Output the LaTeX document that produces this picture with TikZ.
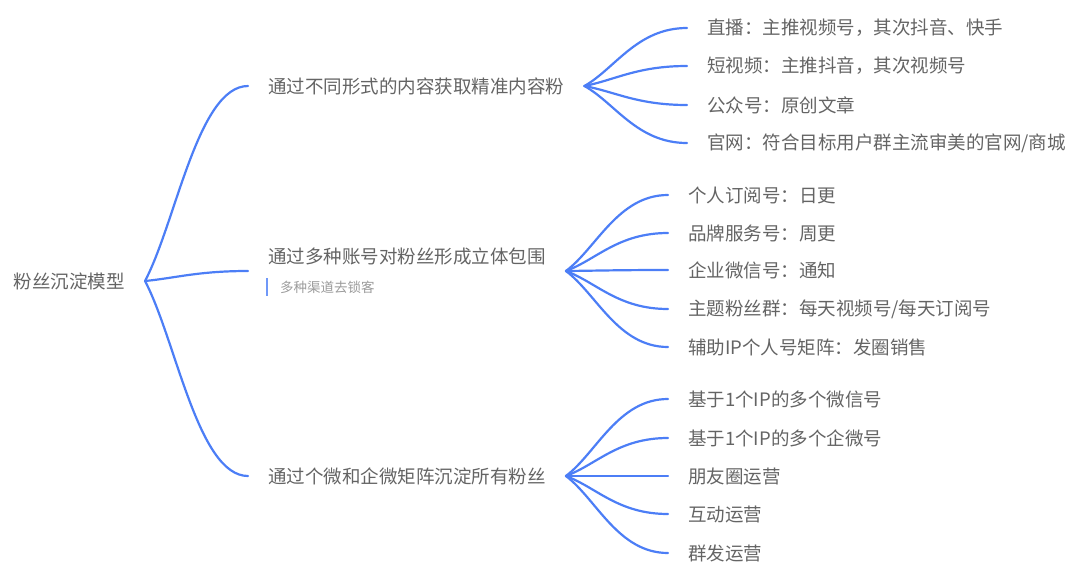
\documentclass[tikz,border=0pt]{standalone}
\usepackage{fontspec}
\setmainfont{Noto Sans CJK SC}
\usetikzlibrary{calc}
\definecolor{mybranch}{RGB}{76,126,246}
\definecolor{mytext}{RGB}{100,100,100}
\definecolor{mynote}{RGB}{155,155,155}

\tikzset{
    topic/.style={anchor=west, inner xsep=20pt, inner ysep=2pt, text=mytext, font=\fontsize{18.5}{22}\selectfont},
    link/.style={draw=mybranch, line width=2.2pt, line cap=round,
        to path={.. controls ($(\tikztostart)!0.3!(\tikztotarget)$) and ($(\tikztotarget)+(-50,0)$) .. (\tikztotarget)}}
}

\begin{document}
\begin{tikzpicture}[x=1pt, y=-1pt]
    \useasboundingbox (0,0) rectangle (1080,571);

    % Root
    \node[topic, anchor=east] (Root) at (145,281) {粉丝沉淀模型};

    % Main branches
    \node[topic] (B1) at (248,86) {通过不同形式的内容获取精准内容粉};
    \node[topic] (B2) at (248,256) {通过多种账号对粉丝形成立体包围};
    \node[topic] (B3) at (248,476) {通过个微和企微矩阵沉淀所有粉丝};
    \coordinate (B2in) at ($(B2.west)+(0,15)$);
    \coordinate (B2out) at ($(B2.east)+(0,15)$);

    % Note under the second branch
    \node[anchor=west, inner sep=0pt, text=mynote, font=\fontsize{13.5}{16}\selectfont] (B2note) at (280,287) {多种渠道去锁客};
    \draw[mybranch!80, line width=1.8pt] ($(B2note.west)+(-13,-9)$) -- ++(0,18);

    % Leaves of the first branch
    \node[topic] (L11) at (687,28) {直播：主推视频号，其次抖音、快手};
    \node[topic] (L12) at (687,66) {短视频：主推抖音，其次视频号};
    \node[topic] (L13) at (687,105) {公众号：原创文章};
    \node[topic] (L14) at (687,143) {官网：符合目标用户群主流审美的官网/商城};

    % Leaves of the second branch
    \node[topic] (L21) at (668,195) {个人订阅号：日更};
    \node[topic] (L22) at (668,233) {品牌服务号：周更};
    \node[topic] (L23) at (668,270) {企业微信号：通知};
    \node[topic] (L24) at (668,309) {主题粉丝群：每天视频号/每天订阅号};
    \node[topic] (L25) at (668,347) {辅助IP个人号矩阵：发圈销售};

    % Leaves of the third branch
    \node[topic] (L31) at (668,399) {基于1个IP的多个微信号};
    \node[topic] (L32) at (668,438) {基于1个IP的多个企微号};
    \node[topic] (L33) at (668,476) {朋友圈运营};
    \node[topic] (L34) at (668,514) {互动运营};
    \node[topic] (L35) at (668,553) {群发运营};

    % Connectors
    \draw[link] (Root.east) to (B1.west);
    \draw[link] (Root.east) to (B2in);
    \draw[link] (Root.east) to (B3.west);
    \foreach \n in {L11,L12,L13,L14}
        \draw[link] (B1.east) to (\n.west);
    \foreach \n in {L21,L22,L23,L24,L25}
        \draw[link] (B2out) to (\n.west);
    \foreach \n in {L31,L32,L33,L34,L35}
        \draw[link] (B3.east) to (\n.west);
\end{tikzpicture}
\end{document}
